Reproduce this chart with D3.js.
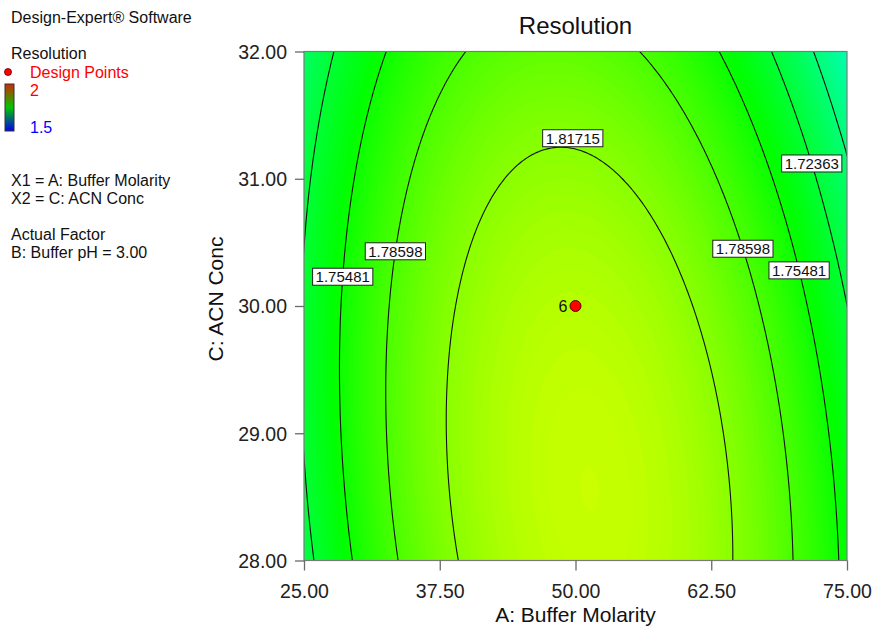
<!DOCTYPE html>
<html>
<head>
<meta charset="utf-8">
<script src="https://cdn.jsdelivr.net/npm/d3@7"></script>
<style>
  body { margin: 0; background: #fff; }
  text { font-family: Arial, "Liberation Sans", sans-serif; }
</style>
</head>
<body>
<script>
// factor ranges and ticks
const aRange = [25, 75];
const cRange = [28, 32];
const xTicks = [25, 37.5, 50, 62.5, 75];
const yTicks = [28, 29, 30, 31, 32];

// fitted quadratic (coded units): intercept, A, C, AC, A^2, C^2
const modelTerms = ["Intercept", "A", "C", "AC", "A^2", "C^2"];
const modelCoefs = [1.8389, -0.00114, -0.0244, -0.018, -0.114, -0.01764];

// contour levels drawn, and the ones that carry a label
const contourLevels = [1.69246, 1.72363, 1.75481, 1.78598, 1.81715];
const labelLevels = [1.81715, 1.78598, 1.75481, 1.72363, 1.78598, 1.75481];
const labelSides = ["top", "left", "left", "right", "right", "right"];
const labelAtC = [null, 30.43, 30.23, 31.12, 30.45, 30.28];

// design points: A, C, replicate count
const designPoints = [[50, 30, 6]];

// colour legend
const colorStops = [1.5, 1.625, 1.75, 1.875, 2];
const colorRange = ["#0000ff", "#00ffff", "#00ff00", "#ffff00", "#ff0000"];

const svg = d3.select("body").append("svg")
    .attr("width", 876)
    .attr("height", 627);

const x = d3.scaleLinear().domain(aRange).range([304, 847]);
const y = d3.scaleLinear().domain(cRange).range([560.5, 51.5]);
const color = d3.scaleLinear().domain(colorStops).range(colorRange);

function resolution(a, c) {
    const x1 = (a - 50) / 25, x2 = (c - 30) / 2;
    const [b0, b1, b2, b12, b11, b22] = modelCoefs;
    return b0 + b1 * x1 + b2 * x2 + b12 * x1 * x2 + b11 * x1 * x1 + b22 * x2 * x2;
}

// A on a contour at a given C (left or right branch)
function solveA(level, c, side) {
    const x2 = (c - 30) / 2;
    const [b0, b1, b2, b12, b11, b22] = modelCoefs;
    const qa = b11, qb = b1 + b12 * x2, qc = b0 + b2 * x2 + b22 * x2 * x2 - level;
    const disc = qb * qb - 4 * qa * qc;
    if (disc < 0) return null;
    const r1 = (-qb + Math.sqrt(disc)) / (2 * qa), r2 = (-qb - Math.sqrt(disc)) / (2 * qa);
    const x1 = side === "left" ? Math.min(r1, r2) : Math.max(r1, r2);
    return 50 + 25 * x1;
}

// grid of the surface, padded past the plot so edges are clipped away
const dA = 0.2, dC = 0.02;
const A0 = aRange[0] - 3 * dA, C0 = cRange[0] - 3 * dC;
const nx = Math.round((aRange[1] - aRange[0]) / dA) + 7;
const ny = Math.round((cRange[1] - cRange[0]) / dC) + 7;
const values = new Array(nx * ny);
for (let j = 0; j < ny; j++) {
    for (let i = 0; i < nx; i++) {
        values[j * nx + i] = resolution(A0 + i * dA, C0 + j * dC);
    }
}

const path = d3.geoPath(d3.geoTransform({
    point: function (u, v) {
        this.stream.point(x(A0 + (u - 0.5) * dA), y(C0 + (v - 0.5) * dC));
    }
}));

svg.append("clipPath").attr("id", "plot-clip")
    .append("rect")
    .attr("x", x(aRange[0])).attr("y", y(cRange[1]))
    .attr("width", x(aRange[1]) - x(aRange[0]))
    .attr("height", y(cRange[0]) - y(cRange[1]));

const plot = svg.append("g").attr("clip-path", "url(#plot-clip)");

// filled colour bands
const vmin = d3.min(values);
const step = 0.0025;
const bandThresholds = d3.range(Math.floor(vmin / step) * step, d3.max(values), step);

plot.append("rect")
    .attr("x", x(aRange[0])).attr("y", y(cRange[1]))
    .attr("width", x(aRange[1]) - x(aRange[0]))
    .attr("height", y(cRange[0]) - y(cRange[1]))
    .attr("fill", color(vmin));

plot.append("g")
    .selectAll("path")
    .data(d3.contours().size([nx, ny]).thresholds(bandThresholds)(values))
    .enter()
    .append("path")
    .attr("d", path)
    .attr("fill", d => color(d.value + step / 2));

// contour lines
plot.append("g")
    .selectAll("path")
    .data(d3.contours().size([nx, ny]).thresholds(contourLevels)(values))
    .enter()
    .append("path")
    .attr("d", path)
    .attr("fill", "none")
    .attr("stroke", "#111")
    .attr("stroke-width", 1.1);

// frame
svg.append("rect")
    .attr("x", x(aRange[0])).attr("y", y(cRange[1]))
    .attr("width", x(aRange[1]) - x(aRange[0]))
    .attr("height", y(cRange[0]) - y(cRange[1]))
    .attr("fill", "none")
    .attr("stroke", "#7a7a7a")
    .attr("stroke-width", 1.2);

// axes
const fmt = d3.format(".2f");
const xAxis = svg.append("g")
    .attr("transform", `translate(0,${y(cRange[0])})`)
    .call(d3.axisBottom(x).tickValues(xTicks).tickFormat(fmt).tickSize(10).tickSizeOuter(0));
const yAxis = svg.append("g")
    .attr("transform", `translate(${x(aRange[0])},0)`)
    .call(d3.axisLeft(y).tickValues(yTicks).tickFormat(fmt).tickSize(9).tickSizeOuter(0));

[xAxis, yAxis].forEach(g => {
    g.select(".domain").remove();
    g.selectAll(".tick line").attr("stroke", "#6a6a6a").attr("stroke-width", 1.3);
    g.selectAll(".tick text")
        .attr("fill", "#222")
        .style("font-size", "19.5px")
        .style("font-family", "Arial, 'Liberation Sans', sans-serif");
});
xAxis.selectAll(".tick text").attr("dy", null).attr("y", 37);
yAxis.selectAll(".tick text").attr("x", -17).attr("dy", "0.35em");

// contour labels
const labels = svg.append("g");
labelLevels.forEach((lv, k) => {
    let px, py;
    if (labelSides[k] === "top") {
        // highest C where the contour still exists
        let lo = cRange[0], hi = cRange[1];
        for (let it = 0; it < 40; it++) {
            const mid = (lo + hi) / 2;
            if (solveA(lv, mid, "left") === null) hi = mid; else lo = mid;
        }
        px = x(solveA(lv, lo, "left")) + 12;
        py = y(lo) - 9;
    } else {
        px = x(solveA(lv, labelAtC[k], labelSides[k]));
        py = y(labelAtC[k]);
    }
    const g = labels.append("g").attr("transform", `translate(${px},${py})`);
    const rect = g.append("rect");
    const t = g.append("text")
        .attr("text-anchor", "middle")
        .attr("dy", "0.36em")
        .attr("fill", "#111")
        .style("font-size", "15px")
        .text(d3.format(".5f")(lv));
    const w = t.node().getComputedTextLength() + 6;
    rect.attr("x", -w / 2).attr("y", -8.5).attr("width", w).attr("height", 17)
        .attr("fill", "#fff").attr("stroke", "#222").attr("stroke-width", 1);
});

// design points
designPoints.forEach(([a, c, n]) => {
    svg.append("circle")
        .attr("cx", x(a)).attr("cy", y(c)).attr("r", 5.5)
        .attr("fill", "#ff0000").attr("stroke", "#5a0000").attr("stroke-width", 1);
    svg.append("text")
        .attr("x", x(a) - 8).attr("y", y(c) + 5.5)
        .attr("text-anchor", "end")
        .attr("fill", "#111")
        .style("font-size", "16px")
        .text(n);
});

// titles
svg.append("text")
    .attr("x", 575.5).attr("y", 34)
    .attr("text-anchor", "middle")
    .attr("fill", "#111")
    .style("font-size", "24px")
    .text("Resolution");
svg.append("text")
    .attr("x", 575.5).attr("y", 622)
    .attr("text-anchor", "middle")
    .attr("fill", "#111")
    .style("font-size", "21px")
    .text("A: Buffer Molarity");
svg.append("text")
    .attr("transform", "translate(223,299) rotate(-90)")
    .attr("text-anchor", "middle")
    .attr("fill", "#111")
    .style("font-size", "21px")
    .text("C: ACN Conc");

// side legend
const side = svg.append("g").style("font-size", "16px").attr("fill", "#111");
const sideLines = [
    ["Design-Expert\u00ae Software", 23],
    ["Resolution", 59],
    ["X1 = A: Buffer Molarity", 186],
    ["X2 = C: ACN Conc", 204],
    ["Actual Factor", 240],
    ["B: Buffer pH = 3.00", 258]
];
sideLines.forEach(([s, yy]) => side.append("text").attr("x", 11).attr("y", yy).text(s));

side.append("circle").attr("cx", 8).attr("cy", 72).attr("r", 3.5)
    .attr("fill", "#ff0000").attr("stroke", "#5a0000").attr("stroke-width", 0.8);
side.append("text").attr("x", 30).attr("y", 77.5).attr("fill", "#ff0000").text("Design Points");

const grad = svg.append("defs").append("linearGradient")
    .attr("id", "legend-grad").attr("x1", 0).attr("y1", 0).attr("x2", 0).attr("y2", 1);
grad.append("stop").attr("offset", "0%").attr("stop-color", "#d02a00");
grad.append("stop").attr("offset", "50%").attr("stop-color", "#00c800");
grad.append("stop").attr("offset", "100%").attr("stop-color", "#0000f0");
side.append("rect").attr("x", 5).attr("y", 84).attr("width", 9).attr("height", 47)
    .attr("fill", "url(#legend-grad)").attr("stroke", "#333").attr("stroke-width", 1);
side.append("text").attr("x", 30).attr("y", 96).attr("fill", "#ff0000").text(colorStops[colorStops.length - 1]);
side.append("text").attr("x", 30).attr("y", 133).attr("fill", "#0000ff").text(colorStops[0]);
</script>
</body>
</html>
